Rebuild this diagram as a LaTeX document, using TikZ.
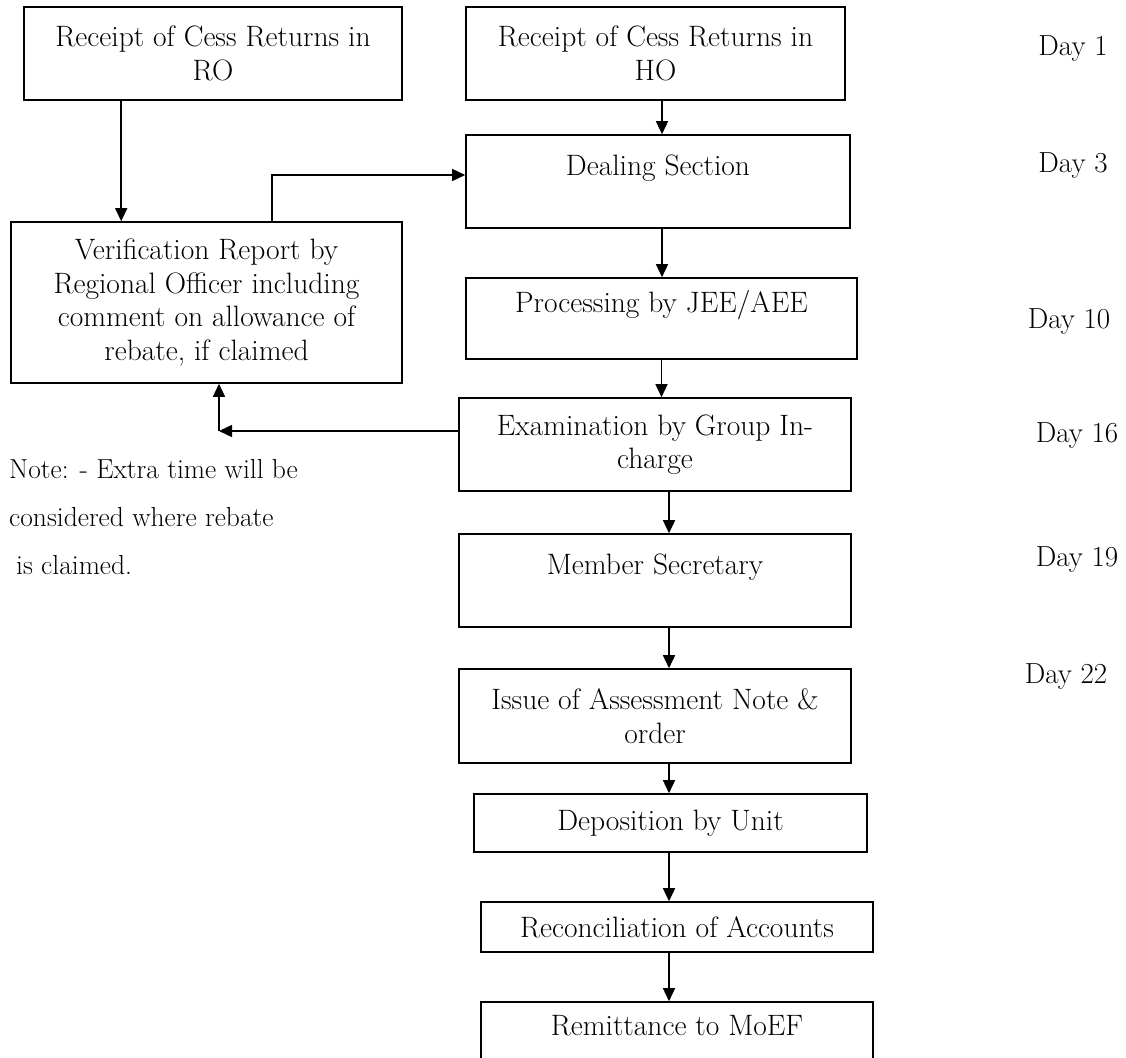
\documentclass[tikz,border=0pt]{standalone}
\usepackage{fontspec}
\usetikzlibrary{arrows.meta, positioning, calc}
\tikzset{
	every node/.style={
		align=center,
	},
}
\tikzstyle{stepbox} = [draw, line width=1.6pt, inner sep=4pt, font=\fontsize{29.5}{33.5}\selectfont]
\tikzstyle{flow} = [line width=1.5pt, -{Triangle[length=13pt,width=12pt]}]
\tikzstyle{day} = [font=\fontsize{29}{30}\selectfont]
\tikzstyle{note} = [align=left, font=\fontsize{27.5}{48}\selectfont]

\begin{document}
\begin{tikzpicture}[x=1pt, y=-1pt]
    \useasboundingbox (0,0) rectangle (1126,1057);

    % left column
    \node (ro) [stepbox, minimum width=378pt, minimum height=93pt] at (213,53.5) {Receipt of Cess Returns in\\ RO};
    \node (ver) [stepbox, minimum width=391pt, minimum height=161pt] at (206.5,302.5) {Verification Report by\\ Regional Officer including\\ comment on allowance of\\ rebate, if claimed};
    \node (nt) [note, anchor=north west, inner sep=0pt] at (9,459) {Note: - Extra time will be\\ considered where rebate\\ \hspace*{7pt}is claimed.};

    % main column
    \node (ho) [stepbox, minimum width=379pt, minimum height=93pt] at (655.5,53.5) {Receipt of Cess Returns in\\ HO};
    \node (deal) [stepbox, minimum width=384pt, minimum height=93pt] at (658,181.5) {Dealing Section\\ ~};
    \node (proc) [stepbox, minimum width=391pt, minimum height=81pt] at (661.5,318.5) {Processing by JEE/AEE\\ ~};
    \node (exam) [stepbox, minimum width=392pt, minimum height=93pt] at (655,444.5) {Examination by Group In-\\ charge};
    \node (mem) [stepbox, minimum width=392pt, minimum height=93pt] at (655,580.5) {Member Secretary\\ ~};
    \node (iss) [stepbox, minimum width=392pt, minimum height=94pt] at (655,716) {Issue of Assessment Note \&\\ order};
    \node (dep) [stepbox, minimum width=393pt, minimum height=58pt] at (670.5,823) {Deposition by Unit};
    \node (rec) [stepbox, minimum width=392pt, minimum height=50pt] at (677,927) {Reconciliation of Accounts};
    \node (rem) [stepbox, minimum width=392pt, minimum height=80pt] at (677,1042) {Remittance to MoEF\\ ~};

    % days
    \node (d1) [day] at (1073,49) {Day 1};
    \node (d3) [day] at (1073,166) {Day 3};
    \node (d10) [day] at (1069,322) {Day 10};
    \node (d16) [day] at (1077,436) {Day 16};
    \node (d19) [day] at (1077,560) {Day 19};
    \node (d22) [day] at (1066,677) {Day 22};

    \draw [flow] ([xshift=98pt]ro.south west) -- ([xshift=98pt]ro.south west |- ver.north);
    \draw [flow] ([xshift=262pt]ver.north west) |- ([yshift=6.5pt]deal.west);

    \draw [flow] ([xshift=6.5pt]ho.south) -- ([xshift=6.5pt]ho.south |- deal.north);
    \draw [flow] ([xshift=4pt]deal.south) -- ([xshift=4pt]deal.south |- proc.north);
    \draw [flow] (proc.south) -- (proc.south |- exam.north);
    \draw [flow] ([xshift=14pt]exam.south) -- ([xshift=14pt]exam.south |- mem.north);
    \draw [flow] ([xshift=14pt]mem.south) -- ([xshift=14pt]mem.south |- iss.north);
    \draw [flow] ([xshift=14pt]iss.south) -- ([xshift=14pt]iss.south |- dep.north);
    \draw [flow] ([xshift=-1.5pt]dep.south) -- ([xshift=-1.5pt]dep.south |- rec.north);
    \draw [flow] ([xshift=-8pt]rec.south) -- ([xshift=-8pt]rec.south |- rem.north);

    \coordinate (bend) at (219,431);
    \draw [flow] ([yshift=13.5pt]exam.west) -- (bend);
    \draw [flow] (bend) -- (bend |- ver.south);

\end{tikzpicture}
\end{document}
